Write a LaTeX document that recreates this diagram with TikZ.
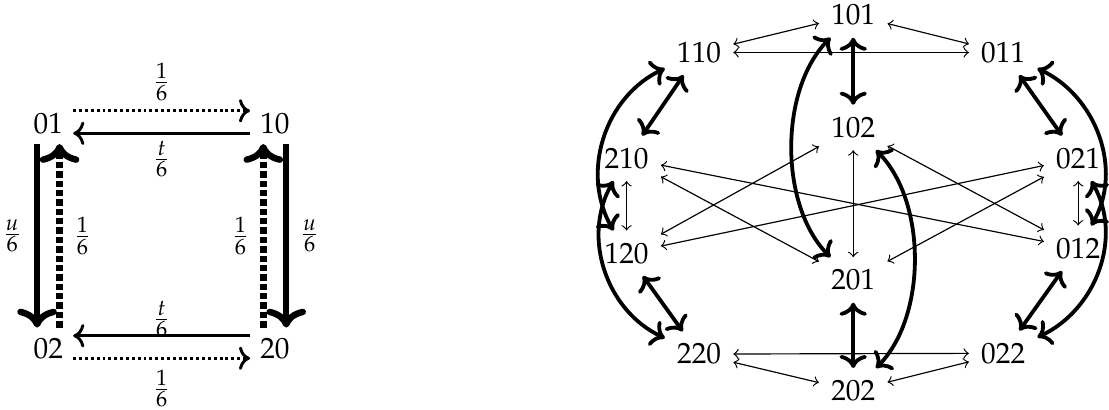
\documentclass[tikz,border=0pt]{standalone}
\usepackage[T1]{fontenc}
\usepackage{mathpazo}
\usepackage{amsmath}
\usetikzlibrary{arrows.meta}

\begin{document}
\begin{tikzpicture}[>=to,
  state/.style={inner sep=4pt},
  lbl/.style={inner sep=0pt},
  big/.style={>={Computer Modern Rightarrow}},
  hop/.style={<->,line width=0.4pt},
  jump/.style={<->,big,line width=1.3pt}]
  \useasboundingbox (0,0) rectangle (13.31,4.91);

  % left: the four pair states
  \node[state,inner sep=3.3pt] (01) at (0.58,3.43) {01};
  \node[state,inner sep=3.3pt] (10) at (3.30,3.43) {10};
  \node[state,inner sep=3.3pt] (02) at (0.58,0.73) {02};
  \node[state,inner sep=3.3pt] (20) at (3.30,0.73) {20};
  \draw[->,big,line width=1pt,densely dotted] ([yshift=0.15cm]01.east) -- node[lbl,above=3pt] {$\frac{1}{6}$} ([yshift=0.15cm]10.west);
  \draw[->,big,line width=1pt] ([yshift=-0.12cm]10.west) -- node[lbl,below=2pt] {$\frac{t}{6}$} ([yshift=-0.12cm]01.east);
  \draw[->,big,line width=1pt] ([yshift=0.15cm]20.west) -- node[lbl,above=-1pt] {$\frac{t}{6}$} ([yshift=0.15cm]02.east);
  \draw[->,big,line width=1pt,densely dotted] ([yshift=-0.12cm]02.east) -- node[lbl,below=3.4pt] {$\frac{1}{6}$} ([yshift=-0.12cm]20.west);
  \draw[->,big,line width=2.2pt] ([xshift=-0.135cm]01.south) -- node[lbl,left=4pt] {$\frac{u}{6}$} ([xshift=-0.135cm]02.north);
  \draw[->,big,line width=2.2pt,densely dotted] ([xshift=0.135cm]02.north) -- node[lbl,right=3.6pt] {$\frac{1}{6}$} ([xshift=0.135cm]01.south);
  \draw[->,big,line width=2.2pt,densely dotted] ([xshift=-0.14cm]20.north) -- node[lbl,left=3.6pt] {$\frac{1}{6}$} ([xshift=-0.14cm]10.south);
  \draw[->,big,line width=2.2pt] ([xshift=0.135cm]10.south) -- node[lbl,right=3.5pt] {$\frac{u}{6}$} ([xshift=0.135cm]20.north);

  % right: the twelve triple states
  \foreach \n/\x/\y in {101/10.24/4.73, 110/8.39/4.28, 011/12.04/4.28,
                        102/10.24/3.38, 210/7.52/3.01, 021/12.94/3.01,
                        120/7.52/1.87, 012/12.94/1.93, 201/10.24/1.55,
                        220/8.39/0.66, 022/12.04/0.67, 202/10.24/0.22}
    \node[state] (\n) at (\x,\y) {\n};

  \foreach \a/\b in {110/101, 101/011, 110/011, 220/202, 202/022, 220/022,
                     210/120, 021/012, 102/201,
                     210/012, 210/201, 120/102, 120/021, 102/012, 201/021}
    \draw[hop] (\a) -- (\b);

  \foreach \a/\b in {110/210, 011/021, 120/220, 012/022, 101/102, 201/202}
    \draw[jump] (\a) -- (\b);

  \draw[jump] (110) to[out=205,in=120] (120);
  \draw[jump] (210) to[out=240,in=155] (220);
  \draw[jump] (011) to[out=-25,in=60] (012);
  \draw[jump] (021) to[out=-60,in=25] (022);
  \draw[jump] (101) to[out=225,in=135,looseness=0.85] (201);
  \draw[jump] (102) to[out=-45,in=45,looseness=0.85] (202);
\end{tikzpicture}
\end{document}
